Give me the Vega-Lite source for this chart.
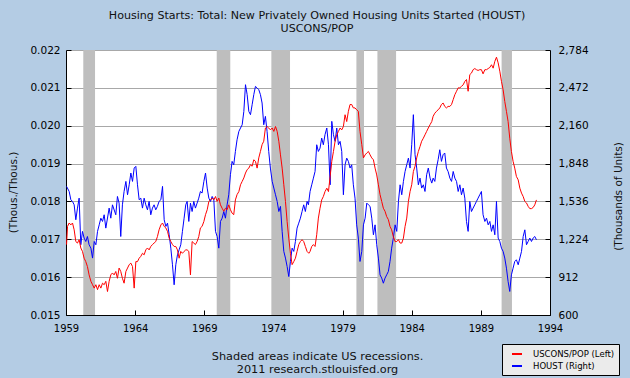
{
  "$schema": "https://vega.github.io/schema/vega-lite/v6.json",
  "width": 484,
  "height": 265,
  "autosize": {"type": "none"},
  "padding": {"left": 66, "top": 50, "right": 80, "bottom": 63},
  "background": "#b4cce4",
  "title": {
    "text": ["Housing Starts: Total: New Privately Owned Housing Units Started (HOUST)", "USCONS/POP"],
    "anchor": "middle", "frame": "group", "font": "DejaVu Sans", "fontSize": 11.1, "fontWeight": "normal",
    "color": "#111", "lineHeight": 13, "offset": 11, "dx": 9
  },
  "config": {
    "font": "DejaVu Sans",
    "view": {"stroke": null, "fill": "white"},
    "axis": {
      "labelFont": "DejaVu Sans", "labelFontSize": 10.5, "labelColor": "#000",
      "titleFont": "DejaVu Sans", "titleFontSize": 10.5, "titleFontWeight": "normal", "titleColor": "#111",
      "domainColor": "#000", "tickColor": "#000", "gridColor": "#a8a8a8", "tickSize": -5
    }
  },
  "datasets": {
    "rec": [
      {"t": 1960.25, "t2": 1961.1},
      {"t": 1969.9, "t2": 1970.88},
      {"t": 1973.85, "t2": 1975.2},
      {"t": 1980.0, "t2": 1980.55},
      {"t": 1981.52, "t2": 1982.87},
      {"t": 1990.5, "t2": 1991.25}
    ],
    "houst": [
      {"t":1959.04,"v":1660},{"t":1959.23,"v":1618},{"t":1959.35,"v":1550},{"t":1959.47,"v":1536},{"t":1959.59,"v":1508},{"t":1959.71,"v":1385},{"t":1959.83,"v":1481},{"t":1959.95,"v":1563},
      {"t":1960.07,"v":1179},{"t":1960.19,"v":1289},{"t":1960.31,"v":1234},{"t":1960.43,"v":1206},{"t":1960.55,"v":1247},{"t":1960.67,"v":1179},{"t":1960.80,"v":1151},{"t":1960.92,"v":1069},
      {"t":1961.04,"v":1206},{"t":1961.16,"v":1179},{"t":1961.28,"v":1289},{"t":1961.40,"v":1343},{"t":1961.52,"v":1398},{"t":1961.64,"v":1371},{"t":1961.76,"v":1426},{"t":1961.88,"v":1316},
      {"t":1962.12,"v":1481},{"t":1962.24,"v":1398},{"t":1962.36,"v":1508},{"t":1962.60,"v":1426},{"t":1962.72,"v":1577},{"t":1962.84,"v":1522},{"t":1962.96,"v":1247},
      {"t":1963.08,"v":1508},{"t":1963.20,"v":1618},{"t":1963.33,"v":1701},{"t":1963.45,"v":1591},{"t":1963.57,"v":1673},{"t":1963.69,"v":1770},{"t":1963.81,"v":1701},{"t":1963.93,"v":1811},
      {"t":1964.05,"v":1825},{"t":1964.17,"v":1673},{"t":1964.29,"v":1550},{"t":1964.41,"v":1563},{"t":1964.53,"v":1481},{"t":1964.65,"v":1563},{"t":1964.77,"v":1508},{"t":1964.89,"v":1467},
      {"t":1965.01,"v":1536},{"t":1965.13,"v":1426},{"t":1965.25,"v":1481},{"t":1965.37,"v":1508},{"t":1965.49,"v":1467},{"t":1965.61,"v":1495},{"t":1965.73,"v":1536},{"t":1965.86,"v":1550},{"t":1965.98,"v":1660},
      {"t":1966.10,"v":1385},{"t":1966.22,"v":1330},{"t":1966.34,"v":1357},{"t":1966.46,"v":1261},{"t":1966.58,"v":1151},{"t":1966.70,"v":1014},{"t":1966.82,"v":849},{"t":1966.94,"v":1014},
      {"t":1967.06,"v":1096},{"t":1967.18,"v":1137},{"t":1967.30,"v":1179},{"t":1967.42,"v":1289},{"t":1967.54,"v":1398},{"t":1967.66,"v":1508},{"t":1967.76,"v":1536},{"t":1967.88,"v":1371},
      {"t":1968.00,"v":1522},{"t":1968.12,"v":1453},{"t":1968.24,"v":1536},{"t":1968.36,"v":1481},{"t":1968.48,"v":1522},{"t":1968.60,"v":1563},{"t":1968.72,"v":1618},{"t":1968.84,"v":1605},{"t":1968.97,"v":1701},
      {"t":1969.09,"v":1770},{"t":1969.21,"v":1646},{"t":1969.33,"v":1563},{"t":1969.45,"v":1536},{"t":1969.57,"v":1577},{"t":1969.69,"v":1550},{"t":1969.81,"v":1289},{"t":1969.93,"v":1247},
      {"t":1970.05,"v":1151},{"t":1970.17,"v":1371},{"t":1970.29,"v":1398},{"t":1970.41,"v":1453},{"t":1970.53,"v":1398},{"t":1970.65,"v":1508},{"t":1970.77,"v":1591},{"t":1970.89,"v":1756},
      {"t":1971.01,"v":1866},{"t":1971.13,"v":1838},{"t":1971.25,"v":1948},{"t":1971.37,"v":2044},{"t":1971.50,"v":2113},{"t":1971.62,"v":2141},{"t":1971.74,"v":2168},{"t":1971.86,"v":2278},{"t":1971.98,"v":2498},
      {"t":1972.10,"v":2416},{"t":1972.22,"v":2278},{"t":1972.34,"v":2251},{"t":1972.46,"v":2333},{"t":1972.58,"v":2416},{"t":1972.70,"v":2484},{"t":1972.82,"v":2471},{"t":1972.94,"v":2457},
      {"t":1973.06,"v":2416},{"t":1973.18,"v":2347},{"t":1973.30,"v":2168},{"t":1973.42,"v":2237},{"t":1973.54,"v":2113},{"t":1973.66,"v":1948},{"t":1973.78,"v":1811},{"t":1973.91,"v":1701},
      {"t":1974.03,"v":1646},{"t":1974.15,"v":1591},{"t":1974.27,"v":1536},{"t":1974.39,"v":1453},{"t":1974.51,"v":1495},{"t":1974.63,"v":1289},{"t":1974.75,"v":1124},{"t":1974.87,"v":1069},{"t":1974.99,"v":1000},
      {"t":1975.11,"v":917},{"t":1975.23,"v":1041},{"t":1975.35,"v":1151},{"t":1975.47,"v":1124},{"t":1975.59,"v":1206},{"t":1975.71,"v":1316},{"t":1975.83,"v":1357},{"t":1975.95,"v":1398},
      {"t":1976.07,"v":1453},{"t":1976.19,"v":1508},{"t":1976.31,"v":1453},{"t":1976.43,"v":1536},{"t":1976.53,"v":1508},{"t":1976.65,"v":1618},{"t":1976.77,"v":1673},{"t":1976.89,"v":1728},
      {"t":1977.01,"v":1783},{"t":1977.13,"v":2003},{"t":1977.25,"v":1948},{"t":1977.37,"v":1975},{"t":1977.49,"v":2058},{"t":1977.61,"v":2003},{"t":1977.73,"v":2086},{"t":1977.86,"v":2141},{"t":1977.98,"v":2003},
      {"t":1978.10,"v":1673},{"t":1978.22,"v":2196},{"t":1978.34,"v":2086},{"t":1978.46,"v":2031},{"t":1978.58,"v":2141},{"t":1978.70,"v":2003},{"t":1978.82,"v":2031},{"t":1978.94,"v":1948},
      {"t":1979.06,"v":1591},{"t":1979.18,"v":1838},{"t":1979.30,"v":1893},{"t":1979.42,"v":1866},{"t":1979.54,"v":1811},{"t":1979.66,"v":1838},{"t":1979.78,"v":1673},{"t":1979.90,"v":1563},
      {"t":1980.02,"v":1343},{"t":1980.14,"v":1234},{"t":1980.26,"v":1041},{"t":1980.39,"v":1124},{"t":1980.51,"v":1343},{"t":1980.63,"v":1398},{"t":1980.75,"v":1522},{"t":1980.87,"v":1508},{"t":1980.99,"v":1495},
      {"t":1981.11,"v":1398},{"t":1981.23,"v":1261},{"t":1981.35,"v":1343},{"t":1981.47,"v":1179},{"t":1981.59,"v":1069},{"t":1981.71,"v":931},{"t":1981.83,"v":904},{"t":1981.95,"v":862},
      {"t":1982.07,"v":904},{"t":1982.19,"v":931},{"t":1982.31,"v":959},{"t":1982.43,"v":1041},{"t":1982.55,"v":1151},{"t":1982.67,"v":1234},{"t":1982.80,"v":1343},{"t":1982.92,"v":1289},
      {"t":1983.04,"v":1536},{"t":1983.16,"v":1673},{"t":1983.28,"v":1591},{"t":1983.40,"v":1701},{"t":1983.52,"v":1783},{"t":1983.64,"v":1838},{"t":1983.76,"v":1893},{"t":1983.88,"v":1811},
      {"t":1984.00,"v":2003},{"t":1984.12,"v":2251},{"t":1984.24,"v":1921},{"t":1984.36,"v":1811},{"t":1984.48,"v":1673},{"t":1984.60,"v":1728},{"t":1984.72,"v":1646},{"t":1984.84,"v":1673},{"t":1984.96,"v":1618},
      {"t":1985.08,"v":1756},{"t":1985.20,"v":1811},{"t":1985.33,"v":1728},{"t":1985.45,"v":1687},{"t":1985.55,"v":1728},{"t":1985.67,"v":1701},{"t":1985.79,"v":1811},{"t":1985.91,"v":1880},
      {"t":1986.03,"v":1962},{"t":1986.15,"v":1866},{"t":1986.27,"v":1921},{"t":1986.39,"v":1935},{"t":1986.51,"v":1811},{"t":1986.63,"v":1783},{"t":1986.76,"v":1728},{"t":1986.88,"v":1701},
      {"t":1987.00,"v":1783},{"t":1987.12,"v":1728},{"t":1987.24,"v":1701},{"t":1987.36,"v":1618},{"t":1987.48,"v":1673},{"t":1987.60,"v":1591},{"t":1987.72,"v":1646},{"t":1987.84,"v":1563},{"t":1987.96,"v":1371},
      {"t":1988.08,"v":1289},{"t":1988.20,"v":1536},{"t":1988.32,"v":1453},{"t":1988.44,"v":1481},{"t":1988.56,"v":1508},{"t":1988.68,"v":1536},{"t":1988.80,"v":1563},{"t":1988.92,"v":1591},
      {"t":1989.04,"v":1618},{"t":1989.16,"v":1426},{"t":1989.29,"v":1371},{"t":1989.41,"v":1398},{"t":1989.53,"v":1343},{"t":1989.65,"v":1371},{"t":1989.77,"v":1289},{"t":1989.89,"v":1343},
      {"t":1990.01,"v":1261},{"t":1990.13,"v":1536},{"t":1990.25,"v":1234},{"t":1990.37,"v":1206},{"t":1990.49,"v":1151},{"t":1990.61,"v":1124},{"t":1990.73,"v":1069},{"t":1990.85,"v":986},{"t":1990.97,"v":876},
      {"t":1991.09,"v":794},{"t":1991.21,"v":931},{"t":1991.33,"v":986},{"t":1991.45,"v":1041},{"t":1991.57,"v":1055},{"t":1991.70,"v":1014},{"t":1991.82,"v":1069},{"t":1991.94,"v":1124},
      {"t":1992.06,"v":1247},{"t":1992.18,"v":1302},{"t":1992.30,"v":1179},{"t":1992.42,"v":1206},{"t":1992.54,"v":1234},{"t":1992.66,"v":1206},{"t":1992.78,"v":1234},{"t":1992.90,"v":1247},{"t":1993.02,"v":1220}
    ],
    "uscons": [
      {"t":1959.04,"v":0.01686},{"t":1959.11,"v":0.01734},{"t":1959.23,"v":0.01743},{"t":1959.35,"v":0.01738},{"t":1959.47,"v":0.01743},{"t":1959.59,"v":0.01725},{"t":1959.71,"v":0.01694},{"t":1959.83,"v":0.0169},{"t":1959.95,"v":0.01699},
      {"t":1960.07,"v":0.01677},{"t":1960.19,"v":0.01668},{"t":1960.31,"v":0.0165},{"t":1960.43,"v":0.01641},{"t":1960.55,"v":0.01628},{"t":1960.67,"v":0.01606},{"t":1960.80,"v":0.01589},{"t":1960.92,"v":0.0158},
      {"t":1961.04,"v":0.01571},{"t":1961.16,"v":0.0158},{"t":1961.28,"v":0.01567},{"t":1961.40,"v":0.0158},{"t":1961.52,"v":0.01571},{"t":1961.64,"v":0.01584},{"t":1961.76,"v":0.0158},{"t":1961.88,"v":0.01589},
      {"t":1962.00,"v":0.01562},{"t":1962.12,"v":0.01589},{"t":1962.24,"v":0.01606},{"t":1962.36,"v":0.01611},{"t":1962.48,"v":0.01606},{"t":1962.60,"v":0.01615},{"t":1962.72,"v":0.01597},{"t":1962.84,"v":0.01624},{"t":1962.96,"v":0.01615},
      {"t":1963.08,"v":0.01597},{"t":1963.20,"v":0.01584},{"t":1963.33,"v":0.01615},{"t":1963.45,"v":0.01624},{"t":1963.57,"v":0.01633},{"t":1963.69,"v":0.01637},{"t":1963.81,"v":0.01628},{"t":1963.93,"v":0.01571},
      {"t":1964.05,"v":0.01641},{"t":1964.17,"v":0.01641},{"t":1964.29,"v":0.0165},{"t":1964.41,"v":0.01655},{"t":1964.53,"v":0.01663},{"t":1964.65,"v":0.01659},{"t":1964.77,"v":0.01672},{"t":1964.89,"v":0.01677},
      {"t":1965.01,"v":0.01672},{"t":1965.13,"v":0.01681},{"t":1965.25,"v":0.01686},{"t":1965.37,"v":0.0169},{"t":1965.49,"v":0.01694},{"t":1965.61,"v":0.01707},{"t":1965.73,"v":0.01725},{"t":1965.86,"v":0.01738},{"t":1965.98,"v":0.01743},
      {"t":1966.10,"v":0.01734},{"t":1966.22,"v":0.0173},{"t":1966.34,"v":0.01721},{"t":1966.46,"v":0.01703},{"t":1966.58,"v":0.01694},{"t":1966.70,"v":0.01686},{"t":1966.82,"v":0.01681},{"t":1966.94,"v":0.01681},
      {"t":1967.06,"v":0.01672},{"t":1967.18,"v":0.0165},{"t":1967.30,"v":0.01668},{"t":1967.42,"v":0.01663},{"t":1967.54,"v":0.01668},{"t":1967.66,"v":0.01672},{"t":1967.76,"v":0.01672},{"t":1967.88,"v":0.01668},
      {"t":1968.00,"v":0.01606},{"t":1968.12,"v":0.01694},{"t":1968.24,"v":0.0169},{"t":1968.36,"v":0.01686},{"t":1968.48,"v":0.01694},{"t":1968.60,"v":0.01707},{"t":1968.72,"v":0.0173},{"t":1968.84,"v":0.01734},{"t":1968.97,"v":0.01747},
      {"t":1969.09,"v":0.01765},{"t":1969.21,"v":0.01778},{"t":1969.33,"v":0.018},{"t":1969.45,"v":0.01804},{"t":1969.57,"v":0.01809},{"t":1969.69,"v":0.01804},{"t":1969.81,"v":0.01813},{"t":1969.93,"v":0.018},
      {"t":1970.05,"v":0.01809},{"t":1970.17,"v":0.01791},{"t":1970.29,"v":0.01782},{"t":1970.41,"v":0.01774},{"t":1970.53,"v":0.01782},{"t":1970.65,"v":0.01778},{"t":1970.77,"v":0.01791},{"t":1970.89,"v":0.01778},
      {"t":1971.01,"v":0.01769},{"t":1971.13,"v":0.01765},{"t":1971.25,"v":0.01804},{"t":1971.37,"v":0.01818},{"t":1971.50,"v":0.01826},{"t":1971.62,"v":0.01844},{"t":1971.74,"v":0.01853},{"t":1971.86,"v":0.01862},{"t":1971.98,"v":0.01875},
      {"t":1972.10,"v":0.01884},{"t":1972.22,"v":0.01888},{"t":1972.34,"v":0.01897},{"t":1972.46,"v":0.01893},{"t":1972.58,"v":0.0191},{"t":1972.70,"v":0.01906},{"t":1972.82,"v":0.01888},{"t":1972.94,"v":0.01915},
      {"t":1973.06,"v":0.01932},{"t":1973.18,"v":0.0195},{"t":1973.30,"v":0.01959},{"t":1973.42,"v":0.01994},{"t":1973.54,"v":0.01998},{"t":1973.66,"v":0.01994},{"t":1973.78,"v":0.01989},{"t":1973.91,"v":0.01994},
      {"t":1974.03,"v":0.01985},{"t":1974.15,"v":0.01998},{"t":1974.27,"v":0.01985},{"t":1974.39,"v":0.01959},{"t":1974.51,"v":0.01923},{"t":1974.63,"v":0.01888},{"t":1974.75,"v":0.01844},{"t":1974.87,"v":0.018},{"t":1974.99,"v":0.01747},
      {"t":1975.11,"v":0.01703},{"t":1975.23,"v":0.01663},{"t":1975.35,"v":0.01633},{"t":1975.47,"v":0.01641},{"t":1975.59,"v":0.0165},{"t":1975.71,"v":0.01668},{"t":1975.83,"v":0.01686},{"t":1975.95,"v":0.01694},
      {"t":1976.07,"v":0.01699},{"t":1976.19,"v":0.01694},{"t":1976.31,"v":0.01681},{"t":1976.43,"v":0.01668},{"t":1976.56,"v":0.01663},{"t":1976.65,"v":0.01668},{"t":1976.77,"v":0.01681},{"t":1976.89,"v":0.01686},
      {"t":1977.01,"v":0.01681},{"t":1977.13,"v":0.01712},{"t":1977.25,"v":0.01756},{"t":1977.37,"v":0.01782},{"t":1977.49,"v":0.01804},{"t":1977.61,"v":0.01813},{"t":1977.73,"v":0.01826},{"t":1977.86,"v":0.01835},{"t":1977.98,"v":0.01826},
      {"t":1978.10,"v":0.01866},{"t":1978.22,"v":0.01906},{"t":1978.34,"v":0.01932},{"t":1978.46,"v":0.01959},{"t":1978.58,"v":0.01976},{"t":1978.70,"v":0.01985},{"t":1978.82,"v":0.01994},{"t":1978.94,"v":0.01989},
      {"t":1979.06,"v":0.01998},{"t":1979.18,"v":0.02029},{"t":1979.30,"v":0.02011},{"t":1979.42,"v":0.02038},{"t":1979.54,"v":0.02056},{"t":1979.66,"v":0.02056},{"t":1979.78,"v":0.02047},{"t":1979.90,"v":0.02047},
      {"t":1980.02,"v":0.02042},{"t":1980.14,"v":0.02038},{"t":1980.26,"v":0.01985},{"t":1980.39,"v":0.0195},{"t":1980.51,"v":0.01915},{"t":1980.63,"v":0.01923},{"t":1980.75,"v":0.01928},{"t":1980.87,"v":0.01932},{"t":1980.99,"v":0.01923},
      {"t":1981.11,"v":0.01915},{"t":1981.23,"v":0.0191},{"t":1981.35,"v":0.01888},{"t":1981.47,"v":0.0187},{"t":1981.59,"v":0.01844},{"t":1981.71,"v":0.01818},{"t":1981.83,"v":0.018},{"t":1981.95,"v":0.01782},
      {"t":1982.07,"v":0.01774},{"t":1982.19,"v":0.0176},{"t":1982.31,"v":0.01752},{"t":1982.43,"v":0.01734},{"t":1982.55,"v":0.01725},{"t":1982.67,"v":0.01707},{"t":1982.80,"v":0.01694},{"t":1982.92,"v":0.01694},
      {"t":1983.04,"v":0.01699},{"t":1983.16,"v":0.0169},{"t":1983.28,"v":0.0169},{"t":1983.40,"v":0.01703},{"t":1983.52,"v":0.01734},{"t":1983.64,"v":0.01756},{"t":1983.76,"v":0.018},{"t":1983.88,"v":0.01826},
      {"t":1984.00,"v":0.01844},{"t":1984.12,"v":0.01879},{"t":1984.24,"v":0.01893},{"t":1984.36,"v":0.01915},{"t":1984.48,"v":0.01932},{"t":1984.60,"v":0.01945},{"t":1984.72,"v":0.01959},{"t":1984.84,"v":0.01967},{"t":1984.96,"v":0.01976},
      {"t":1985.08,"v":0.01985},{"t":1985.20,"v":0.01994},{"t":1985.33,"v":0.02003},{"t":1985.45,"v":0.02011},{"t":1985.55,"v":0.02025},{"t":1985.67,"v":0.02033},{"t":1985.79,"v":0.02038},{"t":1985.91,"v":0.02042},
      {"t":1986.03,"v":0.02047},{"t":1986.15,"v":0.02056},{"t":1986.27,"v":0.0206},{"t":1986.39,"v":0.02051},{"t":1986.51,"v":0.02047},{"t":1986.63,"v":0.02051},{"t":1986.76,"v":0.02051},{"t":1986.88,"v":0.02056},
      {"t":1987.00,"v":0.02069},{"t":1987.12,"v":0.02082},{"t":1987.24,"v":0.02091},{"t":1987.36,"v":0.021},{"t":1987.48,"v":0.021},{"t":1987.60,"v":0.02104},{"t":1987.72,"v":0.02108},{"t":1987.84,"v":0.02117},{"t":1987.96,"v":0.02122},
      {"t":1988.08,"v":0.02091},{"t":1988.20,"v":0.02135},{"t":1988.32,"v":0.02139},{"t":1988.44,"v":0.02148},{"t":1988.56,"v":0.02151},{"t":1988.68,"v":0.02148},{"t":1988.80,"v":0.02146},{"t":1988.92,"v":0.02148},
      {"t":1989.04,"v":0.02148},{"t":1989.16,"v":0.02137},{"t":1989.29,"v":0.02148},{"t":1989.41,"v":0.02148},{"t":1989.53,"v":0.02151},{"t":1989.65,"v":0.02154},{"t":1989.77,"v":0.02161},{"t":1989.89,"v":0.02152},
      {"t":1990.01,"v":0.0217},{"t":1990.13,"v":0.02181},{"t":1990.25,"v":0.02166},{"t":1990.37,"v":0.02144},{"t":1990.49,"v":0.02117},{"t":1990.61,"v":0.02095},{"t":1990.73,"v":0.02064},{"t":1990.85,"v":0.02038},{"t":1990.97,"v":0.02011},
      {"t":1991.09,"v":0.01967},{"t":1991.21,"v":0.01932},{"t":1991.33,"v":0.01906},{"t":1991.45,"v":0.01888},{"t":1991.57,"v":0.01866},{"t":1991.70,"v":0.01857},{"t":1991.82,"v":0.01835},{"t":1991.94,"v":0.01822},
      {"t":1992.06,"v":0.01813},{"t":1992.18,"v":0.018},{"t":1992.30,"v":0.01796},{"t":1992.42,"v":0.01787},{"t":1992.54,"v":0.01781},{"t":1992.66,"v":0.01781},{"t":1992.78,"v":0.01784},{"t":1992.90,"v":0.01791},{"t":1993.02,"v":0.01804}
    ]
  },
  "encoding": {
    "x": {
      "field": "t", "type": "quantitative",
      "scale": {"domain": [1959, 1994], "nice": false, "zero": false},
      "axis": {
        "values": [1959, 1964, 1969, 1974, 1979, 1984, 1989, 1994],
        "format": "d", "labelFlush": false, "labelOverlap": false, "grid": false,
        "labelFontSize": 10, "labelPadding": 13,
        "title": ["Shaded areas indicate US recessions.", "2011 research.stlouisfed.org"],
        "titleFontSize": 11.3,
        "titleX": 251, "titleY": 35, "titleBaseline": "top", "titleAlign": "center", "titleLineHeight": 13
      }
    }
  },
  "layer": [
    {
      "data": {"name": "rec"},
      "mark": {"type": "rect", "color": "#bebebe"},
      "encoding": {"x2": {"field": "t2"}}
    },
    {
      "data": {"name": "houst"},
      "mark": {"type": "line", "strokeWidth": 1},
      "encoding": {
        "y": {
          "field": "v", "type": "quantitative",
          "scale": {"domain": [600, 2784], "nice": false, "zero": false},
          "axis": {
            "orient": "right", "values": [600, 912, 1224, 1536, 1848, 2160, 2472, 2784],
            "format": ",.0f", "grid": false, "labelPadding": 13,
            "title": "(Thousands of Units)", "titleAngle": 270, "titleX": 68, "titleY": 146,
            "titleBaseline": "middle", "titleAlign": "center"
          }
        },
        "color": {"datum": "HOUST (Right)", "type": "nominal"}
      }
    },
    {
      "data": {"name": "uscons"},
      "mark": {"type": "line", "strokeWidth": 1},
      "encoding": {
        "y": {
          "field": "v", "type": "quantitative",
          "scale": {"domain": [0.015, 0.022], "nice": false, "zero": false},
          "axis": {
            "orient": "left", "values": [0.015, 0.016, 0.017, 0.018, 0.019, 0.02, 0.021, 0.022],
            "format": ".3f", "grid": true, "labelPadding": 11,
            "title": "(Thous./Thous.)", "titleAngle": 270, "titleX": -53, "titleY": 142,
            "titleBaseline": "middle", "titleAlign": "center"
          }
        },
        "color": {
          "datum": "USCONS/POP (Left)", "type": "nominal",
          "scale": {"domain": ["USCONS/POP (Left)", "HOUST (Right)"], "range": ["#ff0000", "#0000ff"]},
          "legend": {
            "orient": "none", "legendX": 436, "legendY": 294, "title": null,
            "fillColor": "#ebebeb", "strokeColor": "#000", "padding": 4, "cornerRadius": 0,
            "symbolType": "stroke", "symbolStrokeWidth": 2, "symbolSize": 100, "symbolOffset": 5,
            "labelFont": "DejaVu Sans", "labelFontSize": 8.5, "labelColor": "#000", "labelOffset": 10,
            "rowPadding": 1, "labelLimit": 200
          }
        }
      }
    }
  ],
  "resolve": {"scale": {"y": "independent"}}
}
